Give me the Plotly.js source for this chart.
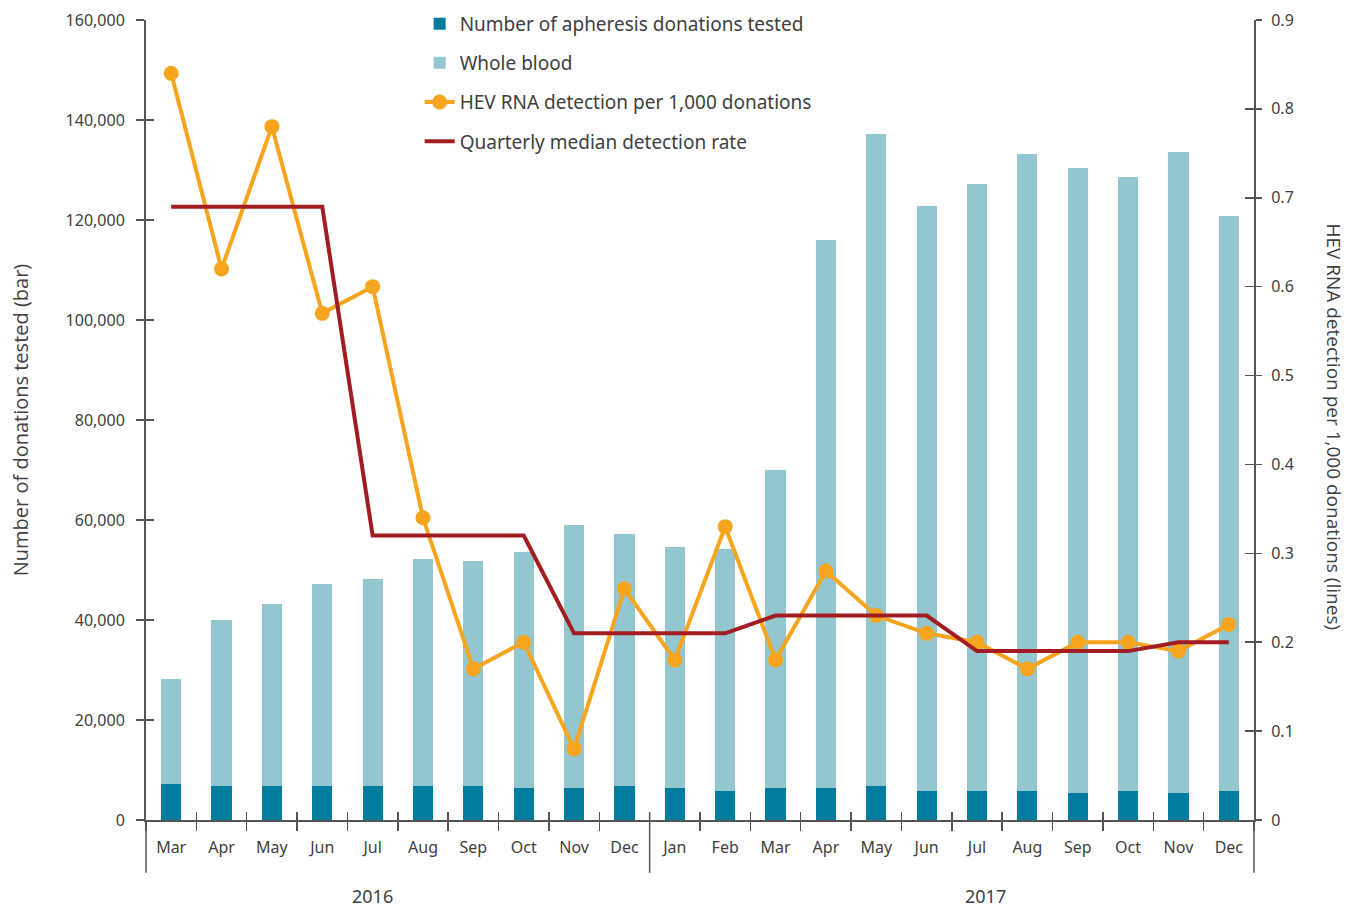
<!DOCTYPE html>
<html>
<head>
<meta charset="utf-8">
<script src="https://cdn.plot.ly/plotly-3.0.1.min.js"></script>
<style>html,body{margin:0;padding:0;background:#fff;}#chart{width:1347px;height:907px;}</style>
</head>
<body>
<div id="chart"></div>
<script>
// ---- Data ----
var months = ['Mar','Apr','May','Jun','Jul','Aug','Sep','Oct','Nov','Dec',
              'Jan','Feb','Mar','Apr','May','Jun','Jul','Aug','Sep','Oct','Nov','Dec'];
var years = [2016,2016,2016,2016,2016,2016,2016,2016,2016,2016,
             2017,2017,2017,2017,2017,2017,2017,2017,2017,2017,2017,2017];
var yearLabels = ['2016','2017'];
var apheresis = [7200,6900,6900,6900,6900,6900,6900,6500,6500,6900,
                 6500,5900,6500,6500,6900,5900,5900,5900,5500,5900,5500,5900];
var totalDonations = [28200,40000,43200,47300,48200,52300,51900,53700,59100,57300,
                      54600,54200,70000,116000,137300,122800,127300,133200,130500,128600,133600,120900];
var wholeBlood = totalDonations.map(function(t,i){return t - apheresis[i];});
var hevRate = [0.84,0.62,0.78,0.57,0.60,0.34,0.17,0.20,0.08,0.26,
               0.18,0.33,0.18,0.28,0.23,0.21,0.20,0.17,0.20,0.20,0.19,0.22];
var quarterlyMedian = [0.69,0.69,0.69,0.69,0.32,0.32,0.32,0.32,0.21,0.21,
                       0.21,0.21,0.23,0.23,0.23,0.23,0.19,0.19,0.19,0.19,0.20,0.20];

var cats = months.map(function(m,i){return m + ' ' + years[i];});
var yearBreak = years.indexOf(2017) - 0.5;

var AX = '#555555', TXT = '#404040';
var FONT = 'Noto Sans, Open Sans, sans-serif';

var traces = [
  {type:'bar', x:cats, y:apheresis, name:'Number of apheresis donations tested',
   marker:{color:'#007c9e'}, legendgroup:'a', hoverinfo:'x+y'},
  {type:'bar', x:cats, y:wholeBlood, name:'Whole blood',
   marker:{color:'#94c6cf'}, legendgroup:'b', hoverinfo:'x+y'},
  {type:'scatter', mode:'lines+markers', x:cats, y:hevRate, yaxis:'y2',
   name:'HEV RNA detection per 1,000 donations', legendgroup:'c',
   line:{color:'#f7a51e', width:4}, marker:{color:'#f7a51e', size:15}},
  {type:'scatter', mode:'lines', x:cats, y:quarterlyMedian, yaxis:'y2',
   name:'Quarterly median detection rate', legendgroup:'d',
   line:{color:'#a31c22', width:4}},
  // invisible helpers so the inner half-ticks axes get drawn
  {type:'scatter', mode:'lines', x:cats, y:apheresis, xaxis:'x2', yaxis:'y3',
   opacity:0, showlegend:false, hoverinfo:'skip'},
  {type:'scatter', mode:'lines', x:cats, y:quarterlyMedian, xaxis:'x', yaxis:'y4',
   opacity:0, showlegend:false, hoverinfo:'skip'}
];

var layout = {
  width:1347, height:907,
  margin:{l:146, r:93, t:20, b:87, autoexpand:false},
  paper_bgcolor:'#ffffff', plot_bgcolor:'#ffffff',
  font:{family:FONT, color:TXT, size:16},
  barmode:'stack', bargap:0.6,
  showlegend:true,
  legend:{x:0.247, y:1.019, xanchor:'left', yanchor:'top', traceorder:'grouped',
          tracegroupgap:11.5, font:{size:19, color:TXT, family:FONT}, bgcolor:'rgba(0,0,0,0)'},
  xaxis:{type:'category', categoryorder:'array', categoryarray:cats,
         tickvals:cats, ticktext:months, tickson:'boundaries',
         range:[-0.5, cats.length-0.5],
         ticks:'outside', ticklen:9, tickwidth:1.5, tickcolor:AX,
         showline:true, linecolor:AX, linewidth:2, showgrid:false, zeroline:false,
         tickfont:{size:16, color:TXT}, ticklabelstandoff:12, anchor:'y'},
  xaxis2:{type:'category', categoryorder:'array', categoryarray:cats,
          tickson:'boundaries', range:[-0.5, cats.length-0.5], overlaying:'x', anchor:'y',
          ticks:'inside', ticklen:8, tickwidth:1.5, tickcolor:AX,
          showticklabels:false, showline:false, showgrid:false, zeroline:false},
  yaxis:{range:[0,160000], dtick:20000, tickformat:',', ticks:'outside', ticklen:8,
         tickwidth:1.5, tickcolor:AX, showline:true, linecolor:AX, linewidth:2,
         showgrid:false, zeroline:false, tickfont:{size:16, color:TXT},
         ticklabelstandoff:8,
         title:{text:'Number of donations tested (bar)', standoff:32,
                font:{family:'Open Sans, sans-serif', size:20, color:TXT}}},
  yaxis3:{range:[0,160000], dtick:20000, overlaying:'y', anchor:'x', ticks:'inside',
          ticklen:8, tickwidth:1.5, tickcolor:AX, showticklabels:false,
          showline:false, showgrid:false, zeroline:false},
  yaxis2:{range:[0,0.9], dtick:0.1, overlaying:'y', side:'right', anchor:'x',
          ticks:'outside', ticklen:6, tickwidth:1.5, tickcolor:AX,
          showline:true, linecolor:AX, linewidth:2, showgrid:false, zeroline:false,
          tickfont:{size:16, color:TXT}, ticklabelstandoff:6},
  yaxis4:{range:[0,0.9], dtick:0.1, overlaying:'y', side:'right', anchor:'x',
          ticks:'inside', ticklen:9, tickwidth:1.5, tickcolor:AX,
          showticklabels:false, showline:false, showgrid:false, zeroline:false},
  shapes:[
    {type:'line', xref:'paper', yref:'paper', x0:0, x1:0, y0:0, y1:-0.066,
     line:{color:AX, width:1.5}},
    {type:'line', xref:'paper', yref:'paper', x0:1, x1:1, y0:0, y1:-0.066,
     line:{color:AX, width:1.5}},
    {type:'line', xref:'x', yref:'paper', x0:yearBreak, x1:yearBreak, y0:0.01, y1:-0.066,
     line:{color:AX, width:1.5}}
  ],
  annotations:[
    {text:yearLabels[0], xref:'paper', yref:'paper', x:0.204, y:-0.095,
     xanchor:'center', yanchor:'middle',
     showarrow:false, font:{size:18, color:TXT, family:FONT}},
    {text:yearLabels[1], xref:'paper', yref:'paper', x:0.758, y:-0.095,
     xanchor:'center', yanchor:'middle',
     showarrow:false, font:{size:18, color:TXT, family:FONT}},
    {text:'HEV RNA detection per 1,000 donations (lines)', xref:'paper', yref:'paper',
     x:1.072, y:0.491, xanchor:'center', yanchor:'middle', textangle:90, showarrow:false,
     font:{family:'Open Sans, sans-serif', size:19, color:TXT}}
  ]
};

Plotly.newPlot('chart', traces, layout, {displayModeBar:false, staticPlot:true});
</script>
</body>
</html>
